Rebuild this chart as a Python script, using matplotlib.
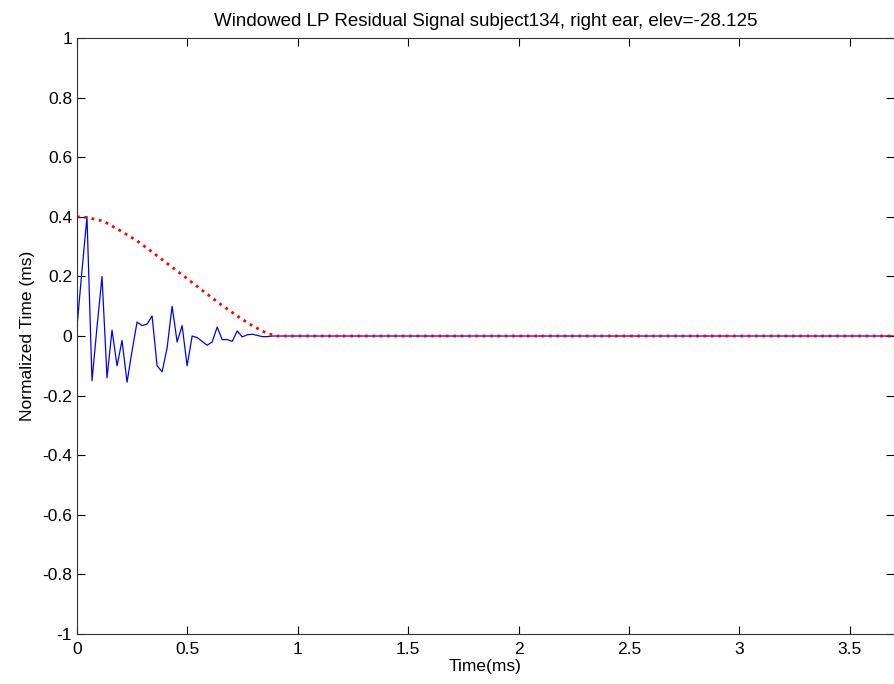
import matplotlib
matplotlib.use("Agg")
import matplotlib.pyplot as plt
from matplotlib.ticker import FormatStrFormatter

plt.rcParams['font.family'] = ['Liberation Sans', 'DejaVu Sans']
plt.rcParams['axes.unicode_minus'] = False

# residual signal, one value per sample (fs = 44.1 kHz)
fs = 44.1
residual = [0.03, 0.22, 0.40, -0.15, 0.03, 0.20, -0.14, 0.02, -0.10, -0.015,
            -0.155, -0.05, 0.047, 0.035, 0.04, 0.067, -0.10, -0.12, -0.04, 0.10,
            -0.02, 0.035, -0.10, 0.0, -0.005, -0.018, -0.031, -0.02, 0.03, -0.012,
            -0.012, -0.018, 0.017, -0.003, 0.004, 0.006, 0.002, -0.002, -0.002, 0.0]
n_samples = 164
residual = residual + [0.0] * (n_samples - len(residual))
t = [k / fs for k in range(n_samples)]
t_end = t[-1]

# window
win_t = [0.0, 0.043, 0.118, 0.193, 0.269, 0.344, 0.42, 0.495, 0.571, 0.646,
         0.722, 0.797, 0.858, 0.903, t_end]
win_y = [0.40, 0.398, 0.386, 0.355, 0.321, 0.28, 0.237, 0.195, 0.151, 0.109,
         0.069, 0.033, 0.01, 0.0, 0.0]

fig = plt.figure(figsize=(8.94, 6.84), dpi=100)
ax = fig.add_axes([0.0861, 0.0731, 0.9139, 0.8713])

ax.plot(t, residual, color="blue", linewidth=0.9)
ax.plot(win_t, win_y, color="red", linestyle=":", linewidth=2)

ax.set_xlim(0, 3.7)
ax.set_ylim(-1, 1)
ax.set_xticks([0, 0.5, 1, 1.5, 2, 2.5, 3, 3.5])
ax.set_yticks([-1, -0.8, -0.6, -0.4, -0.2, 0, 0.2, 0.4, 0.6, 0.8, 1])
ax.xaxis.set_major_formatter(FormatStrFormatter('%g'))
ax.yaxis.set_major_formatter(FormatStrFormatter('%g'))
ax.tick_params(direction="in", top=True, right=True, length=6, labelsize=12.5, width=0.8)
ax.tick_params(axis="x", pad=6)
for s in ax.spines.values():
    s.set_color("#333333")

ax.set_title("Windowed LP Residual Signal subject134, right ear, elev=-28.125", fontsize=13.5, pad=9)
ax.set_xlabel("Time(ms)", fontsize=12.5, labelpad=1)
ax.set_ylabel("Normalized Time (ms)", fontsize=12.5, labelpad=5)

fig.savefig("out.png", dpi=100)
